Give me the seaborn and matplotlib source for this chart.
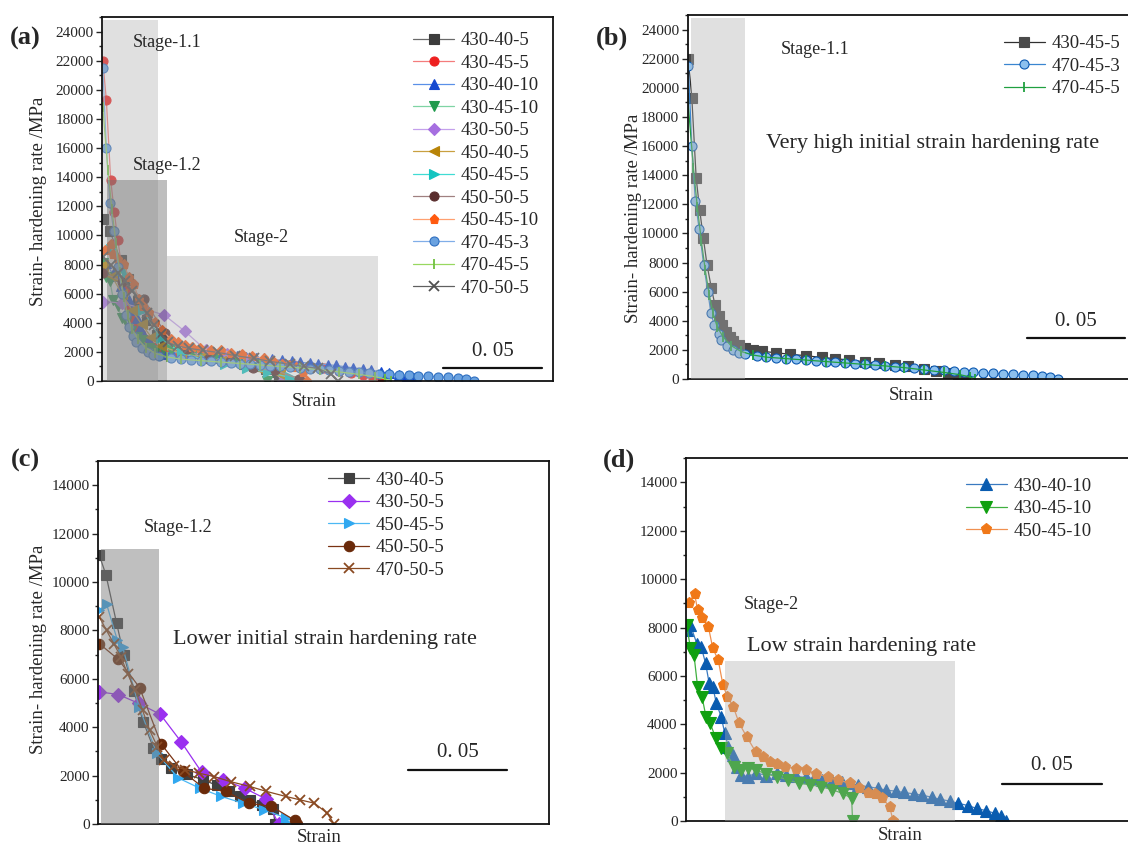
import numpy as np
import matplotlib
matplotlib.use("Agg")
import matplotlib.pyplot as plt
import seaborn as sns
from matplotlib.ticker import MultipleLocator, NullLocator
from matplotlib.patches import Rectangle

sns.set_style("ticks")
plt.rcParams['font.family'] = ['Liberation Serif', 'DejaVu Serif']

# ---------------- data (strain, strain-hardening rate / MPa) ----------------
x_430_40_5 = [0.0007, 0.004, 0.0094, 0.013, 0.018, 0.023, 0.028, 0.032, 0.037, 0.045, 0.053, 0.060,
              0.066, 0.072, 0.077, 0.083, 0.0886, 0.0895]
y_430_40_5 = [11100, 10300, 8300, 7000, 5500, 4200, 3150, 2700, 2300, 2050, 1830, 1600,
              1350, 1150, 1000, 800, 600, 0]

x_430_45_5 = [0.0004, 0.0022, 0.0044, 0.0062, 0.008, 0.0099, 0.0121, 0.0139, 0.0158, 0.0176, 0.0196,
              0.0215, 0.0231, 0.026, 0.029, 0.033, 0.038, 0.045, 0.052, 0.060, 0.068, 0.075, 0.082,
              0.090, 0.097, 0.105, 0.112, 0.120, 0.126, 0.132, 0.137, 0.140]
y_430_45_5 = [22000, 19300, 13800, 11600, 9700, 7850, 6250, 5100, 4300, 3700, 3200,
              2900, 2600, 2350, 2150, 2000, 1900, 1800, 1700, 1600, 1480, 1400, 1300,
              1180, 1080, 980, 880, 720, 580, 420, 220, 0]

x_430_40_10 = [0.0004, 0.0022, 0.0054, 0.0076, 0.0098, 0.0116, 0.0134, 0.0152, 0.0176, 0.0194, 0.0212,
               0.0236, 0.0257, 0.0275, 0.0312, 0.035, 0.040, 0.0457, 0.050, 0.055, 0.060, 0.0638, 0.068,
               0.073, 0.078, 0.0819, 0.086, 0.091, 0.096, 0.100, 0.105, 0.109, 0.114, 0.1181, 0.123,
               0.127, 0.132, 0.1362, 0.141, 0.1453, 0.150, 0.1543, 0.1575, 0.1598]
y_430_40_10 = [7900, 8100, 7340, 7200, 6520, 5690, 5550, 4860, 4310, 3620, 3070,
               2730, 2250, 1900, 1830, 2000, 1880, 1970, 1900, 1850, 1800, 1760, 1700,
               1650, 1600, 1560, 1480, 1420, 1350, 1280, 1230, 1180, 1120, 1070, 980,
               900, 820, 730, 640, 520, 430, 320, 200, 0]

x_430_45_10 = [0.0004, 0.0022, 0.004, 0.0058, 0.008, 0.010, 0.0121, 0.0149, 0.0176, 0.0203, 0.0239,
               0.0275, 0.031, 0.0348, 0.040, 0.0457, 0.051, 0.0565, 0.062, 0.0674, 0.073, 0.0783,
               0.0828, 0.0833]
y_430_45_10 = [8100, 7140, 6860, 5550, 5140, 4310, 4040, 3420, 3000, 2800, 2250,
               2110, 2200, 2110, 1950, 1830, 1700, 1560, 1500, 1420, 1300, 1140,
               940, 0]

x_430_50_5 = [0.0007, 0.0103, 0.0207, 0.0315, 0.042, 0.0524, 0.0632, 0.0741, 0.085, 0.0913]
y_430_50_5 = [5460, 5350, 4980, 4530, 3400, 2140, 1830, 1480, 1030, 0]

x_450_40_5 = [0.0005, 0.005, 0.010, 0.015, 0.020, 0.025, 0.030, 0.040, 0.050, 0.060, 0.070, 0.080,
              0.090, 0.095]
y_450_40_5 = [8000, 7200, 6000, 4900, 3900, 3000, 2400, 1900, 1650, 1400, 1150, 850, 450, 0]

x_450_45_5 = [0.0007, 0.0043, 0.0098, 0.0125, 0.0207, 0.0297, 0.0406, 0.0514, 0.0623, 0.0732, 0.084,
              0.0949, 0.0967]
y_450_45_5 = [8830, 9100, 7590, 7300, 4850, 2920, 1900, 1480, 1140, 860, 590, 250, 0]

x_450_50_5 = [0.0007, 0.0103, 0.021, 0.0319, 0.0428, 0.0536, 0.0645, 0.0761, 0.0877, 0.0995, 0.1004]
y_450_50_5 = [7450, 6800, 5640, 3310, 2170, 1480, 1350, 860, 730, 150, 0]

x_450_45_10 = [0.0013, 0.0043, 0.0058, 0.008, 0.0112, 0.0134, 0.0161, 0.0185, 0.0207, 0.0236, 0.0266,
               0.0303, 0.0348, 0.0385, 0.042, 0.0455, 0.0493, 0.055, 0.0601, 0.065, 0.071, 0.076,
               0.0819, 0.0865, 0.0909, 0.0945, 0.0982, 0.1018, 0.1036]
y_450_45_10 = [9000, 9400, 8720, 8380, 8030, 7140, 6660, 5620, 5140, 4730, 4040,
               3490, 2870, 2650, 2450, 2350, 2250, 2150, 2110, 1950, 1830, 1700,
               1560, 1350, 1140, 1100, 940, 590, 0]

x_470_45_3 = [0.0004, 0.0022, 0.0040, 0.0059, 0.0082, 0.0103, 0.0119, 0.0136, 0.0158, 0.0172, 0.0200,
              0.0231, 0.026, 0.029, 0.035, 0.040, 0.045, 0.050, 0.055, 0.060, 0.065, 0.070, 0.075,
              0.080, 0.085, 0.090, 0.095, 0.100, 0.105, 0.110, 0.115, 0.120, 0.125, 0.130, 0.135,
              0.140, 0.145, 0.150, 0.155, 0.160, 0.165, 0.170, 0.175, 0.180, 0.184, 0.188]
y_470_45_3 = [21500, 16000, 12200, 10300, 7850, 6000, 4500, 3700, 3100, 2700, 2300,
              2000, 1800, 1700, 1580, 1500, 1430, 1390, 1350, 1300, 1250, 1200, 1150,
              1100, 1050, 1000, 950, 900, 850, 800, 760, 700, 650, 600, 550,
              500, 460, 420, 390, 350, 320, 290, 250, 200, 120, 0]

x_470_45_5 = [0.0004, 0.003, 0.005, 0.007, 0.009, 0.011, 0.013, 0.015, 0.018, 0.022, 0.027, 0.033,
              0.040, 0.050, 0.060, 0.070, 0.080, 0.090, 0.100, 0.110, 0.120, 0.130, 0.138, 0.143, 0.146]
y_470_45_5 = [18800, 14500, 11800, 9500, 7500, 5800, 4500, 3600, 2900, 2300, 1900, 1650,
              1500, 1400, 1300, 1200, 1100, 1000, 900, 780, 620, 450, 300, 150, 0]

x_470_50_5 = [0.0007, 0.0043, 0.008, 0.0116, 0.015, 0.0188, 0.0225, 0.0261, 0.030, 0.0333, 0.0385,
              0.0442, 0.051, 0.0587, 0.067, 0.0768, 0.085, 0.0949, 0.102, 0.1094, 0.1158, 0.1194]
y_470_50_5 = [8550, 8000, 7450, 6900, 6200, 5530, 4700, 3880, 3200, 2650, 2400,
              2240, 2100, 1960, 1750, 1550, 1350, 1140, 1000, 860, 450, 0]

SERIES = {
    '430-40-5': (x_430_40_5, y_430_40_5),
    '430-45-5': (x_430_45_5, y_430_45_5),
    '430-40-10': (x_430_40_10, y_430_40_10),
    '430-45-10': (x_430_45_10, y_430_45_10),
    '430-50-5': (x_430_50_5, y_430_50_5),
    '450-40-5': (x_450_40_5, y_450_40_5),
    '450-45-5': (x_450_45_5, y_450_45_5),
    '450-50-5': (x_450_50_5, y_450_50_5),
    '450-45-10': (x_450_45_10, y_450_45_10),
    '470-45-3': (x_470_45_3, y_470_45_3),
    '470-45-5': (x_470_45_5, y_470_45_5),
    '470-50-5': (x_470_50_5, y_470_50_5),
}

# ---------------- figure ----------------
W, H = 1128, 847
fig = plt.figure(figsize=(W / 100, H / 100), dpi=100)


def add_ax(l, t, r, b):
    return fig.add_axes([l / W, 1 - b / H, (r - l) / W, (b - t) / H])


def style_axes(ax, xmax, ymax):
    ax.set_xlim(0, xmax)
    ax.set_ylim(0, ymax)
    ax.set_xticks([])
    ax.xaxis.set_minor_locator(NullLocator())
    ax.yaxis.set_major_locator(MultipleLocator(2000))
    ax.yaxis.set_minor_locator(MultipleLocator(1000))
    ax.tick_params(axis='y', which='major', direction='out', length=4, width=1, labelsize=11, pad=2)
    ax.tick_params(axis='y', which='minor', direction='out', length=2.5, width=1)
    for s in ax.spines.values():
        s.set_linewidth(1.3)
        s.set_color('#111111')


def draw_series(ax, entries, ms, lw=0.9):
    for ent in entries:
        name, lc, mc, mk = ent[:4]
        mfc = ent[4] if len(ent) > 4 else mc
        xs, ys = SERIES[name]
        mew = 1.3 if mk in ('|', 'x') else 0.8
        sns.lineplot(x=np.array(xs), y=np.array(ys), ax=ax, sort=False, estimator=None,
                     color=lc, linewidth=lw, marker=mk, markersize=ms,
                     markerfacecolor=mfc, markeredgecolor=mc, markeredgewidth=mew,
                     label=name, zorder=2)


def region(ax, x0, x1, ytop, color, alpha):
    ax.add_patch(Rectangle((x0, 0), x1 - x0, ytop, facecolor=color, edgecolor='none',
                           alpha=alpha, zorder=3))


def scale_bar(ax, x0, ybar, ytext):
    tr = ax.get_xaxis_transform()
    ax.plot([x0, x0 + 0.05], [ybar, ybar], color='#111111', lw=1.6, transform=tr,
            clip_on=False, zorder=4)
    ax.text(x0 + 0.025, ytext, '0. 05', transform=tr, ha='center', va='center',
            fontsize=15, zorder=4)


def legend(ax, fx, fy):
    ax.legend(loc='upper left', bbox_to_anchor=(fx, fy), frameon=False, fontsize=13.5,
              handlelength=2.2, handletextpad=0.35, labelspacing=0.285, borderpad=0,
              borderaxespad=0)


def labels(ax, ylab, ylc, xlc):
    if ylab:
        ax.set_ylabel(ylab, fontsize=13.5, visible=True)
        ax.yaxis.label.set_visible(True)
        ax.yaxis.set_label_coords(*ylc)
    else:
        ax.set_ylabel('')
    ax.set_xlabel('Strain', fontsize=13.5)
    ax.xaxis.label.set_visible(True)
    ax.xaxis.set_label_coords(*xlc)


YLAB = 'Strain- hardening rate /MPa'

# ---------------- panel (a) ----------------
axa = add_ax(102, 17, 553, 381)
style_axes(axa, 0.228, 25000)
entries_a = [
    ('430-40-5', '#6a6a6a', '#3c3c3c', 's'),
    ('430-45-5', '#f47c7c', '#ee2020', 'o'),
    ('430-40-10', '#5a90e8', '#1448d0', '^'),
    ('430-45-10', '#7fd4a4', '#1f9a4c', 'v'),
    ('430-50-5', '#c4a0ec', '#a66fe0', 'D'),
    ('450-40-5', '#c9a040', '#b88408', '<'),
    ('450-45-5', '#40dcd4', '#14c4c0', '>'),
    ('450-50-5', '#a08080', '#5a2e2e', 'o'),
    ('450-45-10', '#ffa070', '#ff5a10', 'p'),
    ('470-45-3', '#80aee8', '#2f6fc0', 'o', '#6aa2e0'),
    ('470-45-5', '#98d860', '#70c040', '|'),
    ('470-50-5', '#606060', '#505050', 'x'),
]
draw_series(axa, entries_a, ms=6.5)
region(axa, 0.0005, 0.0285, 24800, '#b0b0b0', 0.39)
region(axa, 0.0023, 0.033, 13800, '#707070', 0.45)
region(axa, 0.033, 0.1395, 8600, '#b0b0b0', 0.39)
axa.text(0.069, 0.929, 'Stage-1.1', transform=axa.transAxes, fontsize=13, va='center', zorder=4)
axa.text(0.069, 0.591, 'Stage-1.2', transform=axa.transAxes, fontsize=13, va='center', zorder=4)
axa.text(0.293, 0.393, 'Stage-2', transform=axa.transAxes, fontsize=13, va='center', zorder=4)
scale_bar(axa, 0.1726, 0.036, 0.080)
legend(axa, 0.69, 0.958)
labels(axa, YLAB, (-0.123, 0.495), (0.47, -0.034))

# ---------------- panel (b) ----------------
axb = add_ax(687.5, 15, 1133, 379)
style_axes(axb, 0.2259, 25000)
entries_b = [
    ('430-45-5', '#303030', '#4a4a4a', 's'),
    ('470-45-3', '#3a86d0', '#0b58b0', 'o', '#8cc0ee'),
    ('470-45-5', '#20a040', '#20a040', '|'),
]
draw_series(axb, entries_b, ms=6.5)
region(axb, 0.0018, 0.0294, 24800, '#b0b0b0', 0.39)
axb.text(0.21, 0.904, 'Stage-1.1', transform=axb.transAxes, fontsize=13, va='center', zorder=4)
axb.text(0.176, 0.648, 'Very high initial strain hardening rate', transform=axb.transAxes,
         fontsize=16, va='center', zorder=4)
scale_bar(axb, 0.172, 0.113, 0.157)
legend(axb, 0.71, 0.945)
labels(axb, YLAB, (-0.102, 0.442), (0.502, -0.021))

# ---------------- panel (c) ----------------
axc = add_ax(98, 461, 549, 824)
style_axes(axc, 0.228, 15000)
entries_c = [
    ('430-40-5', '#505050', '#404040', 's'),
    ('430-50-5', '#9a30f0', '#9a30f0', 'D'),
    ('450-45-5', '#4cb8f4', '#30a8f0', '>'),
    ('450-50-5', '#7a3212', '#6a2a0a', 'o'),
    ('470-50-5', '#8a4a22', '#8a4a22', 'x'),
]
draw_series(axc, entries_c, ms=7.5)
region(axc, 0.0013, 0.0307, 11350, '#808080', 0.5)
axc.text(0.102, 0.818, 'Stage-1.2', transform=axc.transAxes, fontsize=13, va='center', zorder=4)
axc.text(0.166, 0.507, 'Lower initial strain hardening rate', transform=axc.transAxes,
         fontsize=16, va='center', zorder=4)
scale_bar(axc, 0.1567, 0.149, 0.198)
legend(axc, 0.51, 0.970)
labels(axc, YLAB, (-0.113, 0.482), (0.49, -0.013))

# ---------------- panel (d) ----------------
axd = add_ax(686, 458.3, 1133, 821)
style_axes(axd, 0.2235, 15000)
entries_d = [
    ('430-40-10', '#3a7ac0', '#0a5cb0', '^'),
    ('430-45-10', '#40b040', '#10a010', 'v'),
    ('450-45-10', '#f09050', '#f07818', 'p'),
]
draw_series(axd, entries_d, ms=8)
region(axd, 0.0195, 0.1345, 6600, '#b0b0b0', 0.39)
axd.text(0.13, 0.596, 'Stage-2', transform=axd.transAxes, fontsize=13, va='center', zorder=4)
axd.text(0.136, 0.48, 'Low strain hardening rate', transform=axd.transAxes,
         fontsize=16, va='center', zorder=4)
scale_bar(axd, 0.158, 0.102, 0.154)
legend(axd, 0.626, 0.946)
labels(axd, None, None, (0.48, -0.016))

# ---------------- panel labels ----------------
for lab, px, py in [('(a)', 10, 38), ('(b)', 596, 38), ('(c)', 11, 460), ('(d)', 603, 460)]:
    fig.text(px / W, 1 - py / H, lab, fontsize=19, fontweight='bold', ha='left', va='center')

fig.savefig('out.png', dpi=100)
